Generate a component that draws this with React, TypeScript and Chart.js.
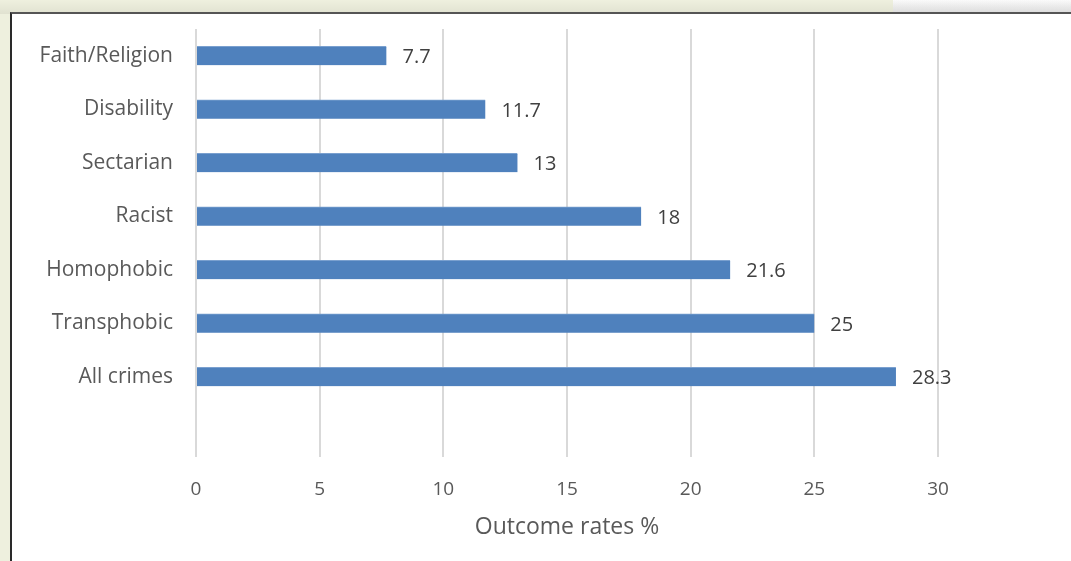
import React, { useEffect, useRef } from "react";
import { Chart, registerables } from "chart.js";

Chart.register(...registerables);

const categories: string[] = [
  "Faith/Religion",
  "Disability",
  "Sectarian",
  "Racist",
  "Homophobic",
  "Transphobic",
  "All crimes",
  "",
];
const values: (number | null)[] = [7.7, 11.7, 13, 18, 21.6, 25, 28.3, null];
const xTicks: number[] = [0, 5, 10, 15, 20, 25, 30];
const xTitle = "Outcome rates %";

const FONT = "'Open Sans', Calibri, sans-serif";

const dataLabelPlugin = {
  id: "dataLabels",
  afterDatasetsDraw(chart: any) {
    const ctx = chart.ctx;
    const meta = chart.getDatasetMeta(0);
    ctx.save();
    ctx.font = `20px ${FONT}`;
    ctx.fillStyle = "#404040";
    ctx.textAlign = "left";
    ctx.textBaseline = "middle";
    meta.data.forEach((bar: any, i: number) => {
      const v = values[i];
      if (v === null || v === undefined) return;
      ctx.fillText(String(v), bar.x + 16, bar.y + 2);
    });
    ctx.restore();
  },
};

export default function App() {
  const ref = useRef<HTMLCanvasElement | null>(null);

  useEffect(() => {
    document.body.style.margin = "0";
    if (!ref.current) return;
    const chart = new Chart(ref.current, {
      type: "bar",
      data: {
        labels: categories,
        datasets: [
          {
            data: values as any,
            backgroundColor: "#4f81bd",
            borderColor: "#7aa0cf",
            borderWidth: { top: 1, bottom: 0, left: 0, right: 0 } as any,
            borderSkipped: false,
            barThickness: 19,
          },
        ],
      },
      options: {
        indexAxis: "y",
        animation: false,
        responsive: false,
        maintainAspectRatio: false,
        layout: { padding: { left: 0, right: 133, top: 15, bottom: 0 } },
        plugins: {
          legend: { display: false },
          tooltip: { enabled: false },
        },
        scales: {
          x: {
            type: "linear",
            min: 0,
            max: 30,
            afterBuildTicks: (s: any) => {
              s.ticks = xTicks.map((v) => ({ value: v }));
            },
            afterFit: (s: any) => {
              s.height = 104;
            },
            grid: {
              color: "#d9d9d9",
              lineWidth: 2,
              drawTicks: false,
            },
            border: { display: false },
            ticks: {
              padding: 21,
              color: "#595959",
              font: { family: FONT, size: 19 },
            },
            title: {
              display: true,
              text: xTitle,
              color: "#595959",
              font: { family: FONT, size: 23 },
              padding: { top: 0, bottom: 20 },
            },
          },
          y: {
            type: "category",
            afterFit: (s: any) => {
              s.width = 184;
              s.paddingTop = 0;
              s.paddingBottom = 0;
            },
            grid: { display: false, drawTicks: false },
            border: { display: false },
            ticks: {
              padding: 23,
              color: "#595959",
              font: { family: FONT, size: 21 },
            },
          },
        },
      },
      plugins: [dataLabelPlugin],
    });
    return () => chart.destroy();
  }, []);

  return (
    <div
      style={{
        position: "fixed",
        left: 0,
        top: 0,
        width: 1071,
        height: 561,
        background: "#eef0de",
        overflow: "hidden",
      }}
    >
      <div
        style={{
          position: "absolute",
          left: 893,
          top: 0,
          width: 178,
          height: 14,
          background: "linear-gradient(to bottom, #fafafa, #e6e6e6)",
        }}
      />
      <div
        style={{
          position: "absolute",
          left: 0,
          top: 0,
          width: 1071,
          height: 14,
          background:
            "linear-gradient(to bottom, rgba(0,0,0,0), rgba(0,0,0,0.06))",
        }}
      />
      <div
        style={{
          position: "absolute",
          left: 10,
          top: 12,
          width: 1061,
          height: 549,
          background: "#ffffff",
          borderTop: "2px solid #555555",
          borderLeft: "2px solid #2a2a2a",
          boxSizing: "border-box",
        }}
      >
        <canvas
          ref={ref}
          width={1059}
          height={547}
          style={{ display: "block", width: 1059, height: 547 }}
        />
      </div>
    </div>
  );
}
